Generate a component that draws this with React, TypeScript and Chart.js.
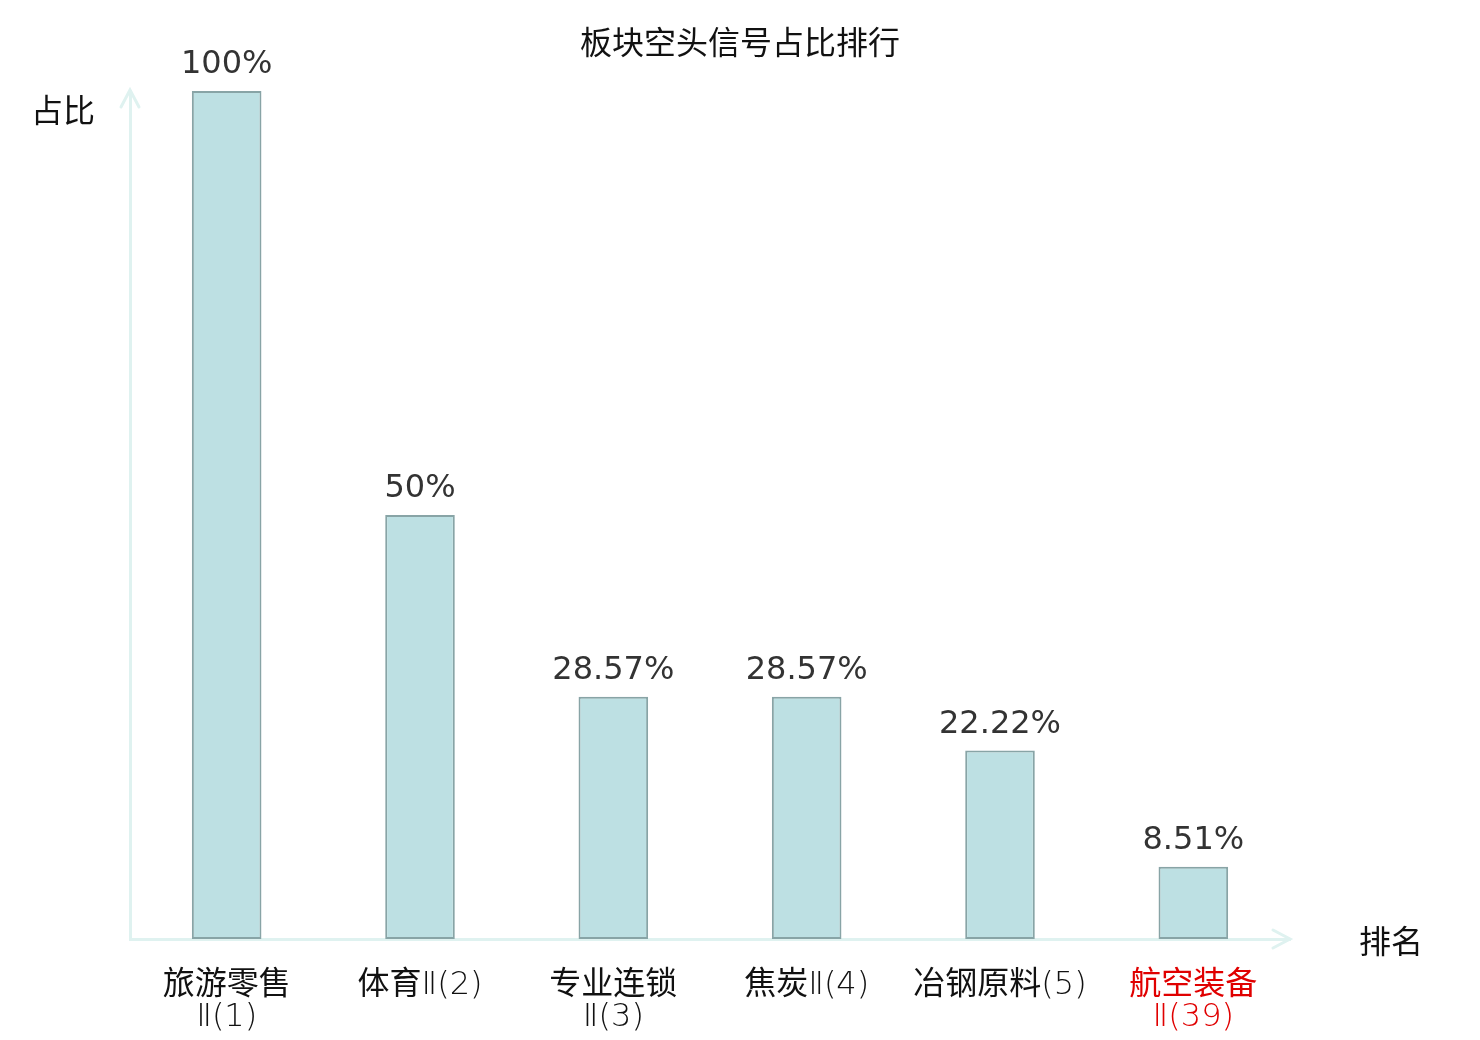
import { useEffect, useRef } from "react";
import { Chart, registerables } from "chart.js";

Chart.register(...registerables);

const categories = [
  ["旅游零售", "Ⅱ(1)"],
  "体育Ⅱ(2)",
  ["专业连锁", "Ⅱ(3)"],
  "焦炭Ⅱ(4)",
  "冶钢原料(5)",
  ["航空装备", "Ⅱ(39)"],
];
const shares = [100, 50, 28.57, 28.57, 22.22, 8.51];
const highlightIndex = 5;

const LATIN = '"DejaVu Sans", "Noto Sans CJK SC", sans-serif';
const LIGHT = '"DejaVu Sans Light", "DejaVu Sans ExtraLight", "Noto Sans CJK SC", sans-serif';
const CJK = '"Noto Sans CJK SC", "DejaVu Sans", sans-serif';
const AXIS_COLOR = "#dff2f0";

// title, axis names, arrows and value labels
const decorPlugin = {
  id: "decor",
  afterDraw(chart: Chart) {
    const { ctx, chartArea } = chart;
    ctx.save();

    ctx.fillStyle = "#111";
    ctx.font = `32px ${CJK}`;
    ctx.textAlign = "center";
    ctx.textBaseline = "middle";
    ctx.fillText("板块空头信号占比排行", 740, 42);
    ctx.fillText("占比", 63, 110);
    ctx.fillText("排名", 1391, 941);

    // arrows
    ctx.strokeStyle = AXIS_COLOR;
    ctx.lineWidth = 3;
    ctx.lineCap = "round";
    ctx.beginPath();
    ctx.moveTo(chartArea.left, chartArea.top);
    ctx.lineTo(chartArea.left, 90);
    ctx.moveTo(chartArea.left - 9, 107);
    ctx.lineTo(chartArea.left, 90);
    ctx.lineTo(chartArea.left + 9, 107);
    ctx.moveTo(chartArea.right - 17, chartArea.bottom - 9);
    ctx.lineTo(chartArea.right, chartArea.bottom);
    ctx.lineTo(chartArea.right - 17, chartArea.bottom + 9);
    ctx.stroke();

    // value labels
    ctx.fillStyle = "#333";
    ctx.font = `32px ${LATIN}`;
    ctx.textBaseline = "alphabetic";
    const meta = chart.getDatasetMeta(0);
    meta.data.forEach((bar: any, i: number) => {
      ctx.fillText(`${shares[i]}%`, bar.x, bar.y - 18);
    });
    ctx.restore();
  },
};

const App = () => {
  const canvasRef = useRef<HTMLCanvasElement>(null);

  useEffect(() => {
    document.body.style.margin = "0";
    if (!canvasRef.current) return;
    const ctx = canvasRef.current.getContext("2d");

    const chart = new Chart(ctx!, {
      type: "bar",
      data: {
        labels: categories,
        datasets: [
          {
            data: shares,
            backgroundColor: "#bde0e3",
            borderColor: "#88a4a6",
            borderWidth: 2,
            borderSkipped: false,
            barPercentage: 0.36,
            categoryPercentage: 1,
          },
        ],
      },
      options: {
        animation: false,
        responsive: false,
        layout: { padding: { left: 130, right: 190, top: 91, bottom: 0 } },
        plugins: {
          legend: { display: false },
          tooltip: { enabled: false },
        },
        scales: {
          x: {
            grid: { display: false, drawTicks: false },
            border: { color: AXIS_COLOR, width: 3 },
            afterFit: (scale: any) => {
              scale.height = 101;
            },
            ticks: {
              padding: 31,
              maxRotation: 0,
              autoSkip: false,
              font: { family: LIGHT, size: 32, lineHeight: 1.0 },
              color: (c: any) => (c.index === highlightIndex ? "#e00000" : "#111"),
            },
          },
          y: {
            min: 0,
            max: 100,
            grid: { display: false, drawTicks: false },
            border: { color: AXIS_COLOR, width: 3 },
            ticks: { display: false },
            afterFit: (scale: any) => {
              scale.width = 0;
            },
          },
        },
      },
      plugins: [decorPlugin],
    });

    return () => {
      chart.destroy();
    };
  }, []);

  return <canvas ref={canvasRef} width={1480} height={1040}></canvas>;
};

export default App;
